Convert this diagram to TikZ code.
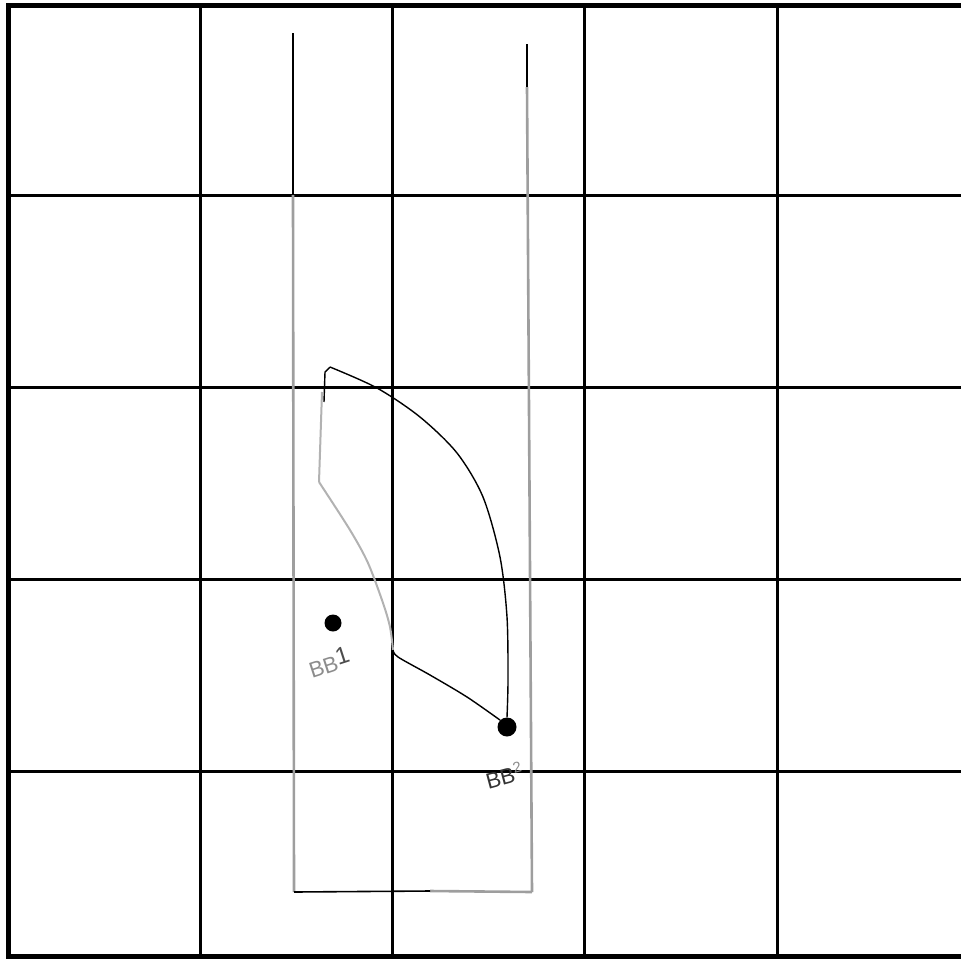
\documentclass[tikz,border=0pt]{standalone}
\usepackage{fontspec}
\newfontfamily\hand{Liberation Sans}
\begin{document}
\begin{tikzpicture}[x=1pt,y=-1pt,
  gridline/.style={line width=3pt,black},
  frameline/.style={line width=5pt,black},
  boxgray/.style={line width=2.6pt,black!38},
  boxblack/.style={line width=1.6pt,black},
  curveblack/.style={line width=1.4pt,black},
  curvegray/.style={line width=2pt,black!30},
  dotnode/.style={circle,fill=black,inner sep=0pt},
  handlabel/.style={font=\hand\fontsize{22}{22}\selectfont,inner sep=0pt}]
\useasboundingbox (0,0) rectangle (961,959);
% grid
\foreach \x in {200,392,584,777} \draw[gridline] (\x,5) -- (\x,956);
\foreach \y in {195,387,579,771} \draw[gridline] (8,\y) -- (961,\y);
\draw[frameline] (961,5) -- (8,5) -- (8,956) -- (961,956);
% rectangle (hand drawn)
\coordinate (lt) at (293,33);
\coordinate (lm) at (293,195);
\coordinate (lb) at (294,892);
\coordinate (rt) at (527,44);
\coordinate (rm) at (527,87);
\coordinate (rb) at (532,892);
\coordinate (bm) at (430,891);
\draw[boxgray] (lm) -- (lb);
\draw[boxblack] (lt) -- (lm);
\draw[boxgray] (rm) -- (rb);
\draw[boxblack] (rt) -- (rm);
\draw[boxgray] (bm) -- (rb);
\draw[boxblack] (lb) -- (bm);
% dots
\node[dotnode,minimum size=17pt] (bb1) at (333,623) {};
\node[dotnode,minimum size=19pt] (bb2) at (507,727) {};
% path
\coordinate (top) at (330,367);
\coordinate (kneeA) at (325,372);
\coordinate (kneeB) at (324,402);
\coordinate (kneeC) at (319,482);
\coordinate (cross) at (393,650);
\draw[curveblack] plot[smooth] coordinates {(top) (377,388) (420,417) (457,453) (483,497) (500,557) (507,617) (508,680) (bb2.north)};
\draw[curveblack] (top) -- (kneeA) -- (kneeB);
\draw[curvegray] (322,392) -- (kneeC);
\draw[curvegray] plot[smooth] coordinates {(kneeC) (350,530) (368,563) (383,603) (390,627) (cross)};
\draw[curveblack] plot[smooth] coordinates {(cross) (398,657) (430,675) (467,697) (bb2.north west)};
% labels
\node[handlabel,text=black!45,rotate=18] (l1) at (329,662) {BB\textcolor{black!70}{\raisebox{5pt}{\fontsize{24}{24}\selectfont 1}}};
\node[handlabel,text=black!80,rotate=15] (l2) at (504,775) {BB\textcolor{black!45}{\raisebox{9pt}{\fontsize{15}{15}\selectfont 2}}};
\end{tikzpicture}
\end{document}
